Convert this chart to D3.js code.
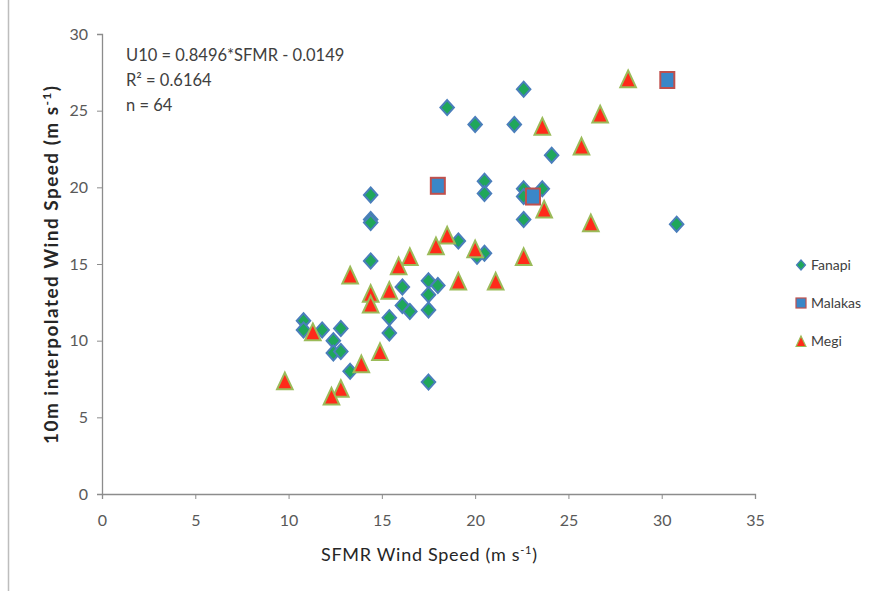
<!DOCTYPE html>
<html><head><meta charset="utf-8">
<script src="https://cdn.jsdelivr.net/npm/d3@7"></script>
<style>body{margin:0;background:#fff;} svg{display:block;}</style>
</head><body>
<script>
const fanapiX = [18.5,22.6,20.0,22.1,24.1,20.5,20.5,22.6,22.6,23.6,22.6,30.8,14.4,14.4,14.4,14.4,19.1,20.5,20.1,10.8,10.8,11.8,12.8,12.4,12.4,12.8,13.3,16.1,16.1,16.5,15.4,15.4,17.5,17.5,17.5,18.0,17.5];
const fanapiY = [25.2,26.4,24.1,24.1,22.1,20.4,19.6,19.9,19.4,19.9,17.9,17.6,19.5,17.9,17.7,15.2,16.5,15.7,15.5,11.3,10.7,10.7,10.8,10.0,9.2,9.3,8.0,13.5,12.3,11.9,11.5,10.5,13.9,13.0,12.0,13.6,7.3];
const malakasX = [18.0,23.1,30.3];
const malakasY = [20.1,19.4,27.0];
const megiX = [28.2,26.7,23.6,25.7,23.7,26.2,22.6,18.5,17.9,20.0,19.1,21.1,16.5,15.9,13.3,14.4,14.4,15.4,11.3,13.9,14.9,9.8,12.8,12.3];
const megiY = [27.0,24.7,23.9,22.6,18.5,17.6,15.4,16.8,16.1,15.9,13.8,13.8,15.4,14.8,14.2,13.0,12.3,13.2,10.5,8.4,9.2,7.3,6.8,6.3];
const xTicks = [0,5,10,15,20,25,30,35];
const yTicks = [0,5,10,15,20,25,30];
const seriesNames = ["Fanapi","Malakas","Megi"];
const annotation = ["U10 = 0.8496*SFMR - 0.0149","R² = 0.6164","n = 64"];

const W = 877, H = 591;
const svg = d3.select("body").append("svg").attr("width", W).attr("height", H);
const font = "Lato, 'Open Sans', sans-serif";

// outer frame line
svg.append("line").attr("x1",8.5).attr("x2",8.5).attr("y1",0).attr("y2",H).attr("stroke","#bdbdbd").attr("stroke-width",1.5);

const x = d3.scaleLinear().domain([0,35]).range([102,755]);
const y = d3.scaleLinear().domain([0,30]).range([494,34]);

const xAxis = svg.append("g").attr("transform","translate(0,494)")
  .call(d3.axisBottom(x).tickValues(xTicks).tickSize(5).tickPadding(16).tickFormat(d3.format("d")));
const yAxis = svg.append("g").attr("transform","translate(102,0)")
  .call(d3.axisLeft(y).tickValues(yTicks).tickSize(5).tickPadding(9).tickFormat(d3.format("d")));
[xAxis,yAxis].forEach(g=>{
  g.selectAll("path").attr("stroke","#8c8c8c").attr("stroke-width",1.3);
  g.selectAll("line").attr("stroke","#8c8c8c");
  g.selectAll("text").attr("fill","#595959").style("font-family",font).style("font-size","16px");
});

// axis titles
const yt = svg.append("text").attr("transform","translate(58,265) rotate(-90)")
  .attr("text-anchor","middle").style("font-family",font).style("font-size","19px").style("font-weight","bold").attr("fill","#262626")
  .attr("textLength",358).attr("lengthAdjust","spacing");
yt.append("tspan").text("10m interpolated Wind Speed (m s");
yt.append("tspan").attr("dy",-7).style("font-size","12px").text("-1");
yt.append("tspan").attr("dy",7).text(")");

const xt = svg.append("text").attr("x",429).attr("y",561)
  .attr("text-anchor","middle").style("font-family",font).style("font-size","18px").attr("fill","#262626")
  .attr("textLength",216).attr("lengthAdjust","spacing");
xt.append("tspan").text("SFMR Wind Speed (m s");
xt.append("tspan").attr("dy",-7).style("font-size","11px").text("-1");
xt.append("tspan").attr("dy",7).text(")");

// annotation
annotation.forEach((t,i)=>{
  svg.append("text").attr("x",126).attr("y",61+i*25).text(t)
    .style("font-family",font).style("font-size","16.5px").attr("fill","#404040");
});

// markers
const diamond = s => `M0,${-s}L${s*0.9},0L0,${s}L${-s*0.9},0Z`;
const tri = s => `M0,${-s}L${s*0.82},${s*0.75}L${-s*0.82},${s*0.75}Z`;

const fan = fanapiX.map((v,i)=>({x:v,y:fanapiY[i]}));
const mal = malakasX.map((v,i)=>({x:v,y:malakasY[i]}));
const meg = megiX.map((v,i)=>({x:v,y:megiY[i]}));

const g = svg.append("g");
g.selectAll(".fan").data(fan).join("path").attr("class","fan")
  .attr("transform",d=>`translate(${x(d.x)},${y(d.y)})`).attr("d",diamond(7.5))
  .attr("fill","#1fa75a").attr("stroke","#4a7ebb").attr("stroke-width",2);
g.selectAll(".mal").data(mal).join("rect").attr("class","mal")
  .attr("x",d=>x(d.x)-7).attr("y",d=>y(d.y)-8).attr("width",14).attr("height",16)
  .attr("fill","#3a87c8").attr("stroke","#c0504d").attr("stroke-width",2);
g.selectAll(".meg").data(meg).join("path").attr("class","meg")
  .attr("transform",d=>`translate(${x(d.x)},${y(d.y)})`).attr("d",tri(9.5))
  .attr("fill","#ff2a1a").attr("stroke","#9bbb59").attr("stroke-width",2);

// legend
const leg = svg.append("g");
seriesNames.forEach((n,i)=>{
  const cy = 265 + i*38;
  if(i===0) leg.append("path").attr("transform",`translate(801,${cy})`).attr("d",diamond(5)).attr("fill","#1fa75a").attr("stroke","#4a7ebb").attr("stroke-width",1.2);
  if(i===1) leg.append("rect").attr("x",796).attr("y",cy-5).attr("width",10).attr("height",10).attr("fill","#3a87c8").attr("stroke","#c0504d").attr("stroke-width",1.2);
  if(i===2) leg.append("path").attr("transform",`translate(801,${cy+1})`).attr("d",tri(6)).attr("fill","#ff2a1a").attr("stroke","#9bbb59").attr("stroke-width",1.2);
  leg.append("text").attr("x",811).attr("y",cy+5).text(n)
    .style("font-family",font).style("font-size","14px").attr("fill","#404040");
});
</script>
</body></html>
